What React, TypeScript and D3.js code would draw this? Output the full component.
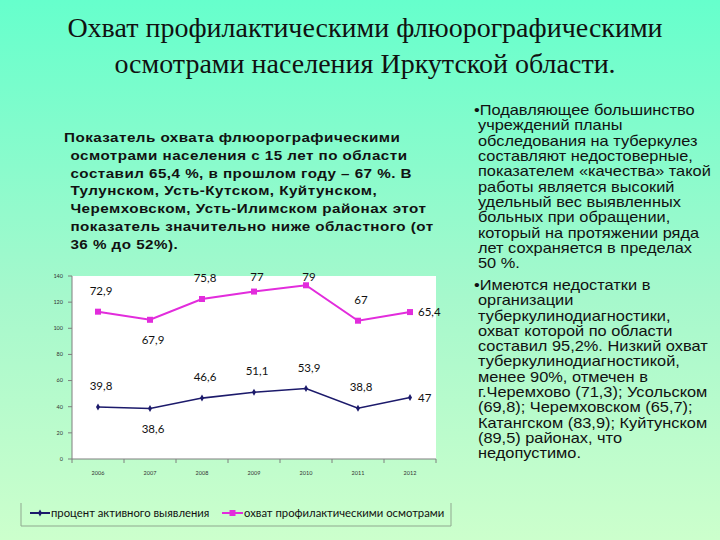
import * as d3 from 'd3';

const years = ['2006', '2007', '2008', '2009', '2010', '2011', '2012'];
const activeDetection = [39.8, 38.6, 46.6, 51.1, 53.9, 38.8, 47];
const screeningCoverage = [72.9, 67.9, 75.8, 77, 79, 67, 65.4];
const labelPlacement = ['above', 'below', 'above', 'above', 'above', 'above', 'right'];
const yTicks = [0, 20, 40, 60, 80, 100, 120, 140];

const seriesNames = ['процент активного выявления', 'охват профилактическими осмотрами'];

const titleLines = [
  'Охват профилактическими флюорографическими',
  'осмотрами населения Иркутской области.',
];

const leftText = [
  'Показатель охвата флюорографическими',
  'осмотрами населения с 15 лет по области',
  'составил 65,4 %, в прошлом году – 67 %. В',
  'Тулунском, Усть-Кутском, Куйтунском,',
  'Черемховском, Усть-Илимском районах этот',
  'показатель значительно ниже областного (от',
  '36 % до 52%).',
];

const rightText1 = [
  '•Подавляющее большинство',
  'учреждений планы',
  'обследования на туберкулез',
  'составляют недостоверные,',
  'показателем «качества» такой',
  'работы является высокий',
  'удельный вес выявленных',
  'больных при обращении,',
  'который на протяжении ряда',
  'лет сохраняется в пределах',
  '50 %.',
];
const rightText2 = [
  '•Имеются недостатки в',
  'организации',
  'туберкулинодиагностики,',
  'охват которой по области',
  'составил 95,2%. Низкий охват',
  'туберкулинодиагностикой,',
  'менее 90%, отмечен  в',
  'г.Черемхово (71,3); Усольском',
  '(69,8); Черемховском (65,7);',
  'Катангском (83,9); Куйтунском',
  '(89,5)  районах, что',
  'недопустимо.',
];

const W = 720;
const H = 540;
const plot = { left: 72, right: 436, top: 276, bottom: 459 };
const BLUE = '#1c1a6b';
const PINK = '#e22cdc';
const sansLabel = 'Lato, "Open Sans", sans-serif';
const arial = '"Liberation Sans", Arial, sans-serif';

const fmt = (v: number) => String(v).replace('.', ',');

export default function App() {
  const rows = years.map((y, i) => ({ year: y, active: activeDetection[i], coverage: screeningCoverage[i] }));
  const stacked = d3.stack<any>().keys(['active', 'coverage'])(rows);

  const x = d3.scaleBand().domain(years).range([plot.left, plot.right]);
  const y = d3.scaleLinear().domain([0, 140]).range([plot.bottom, plot.top]);
  const cx = (yr: string) => (x(yr) as number) + x.bandwidth() / 2;

  const line = d3
    .line<any>()
    .x((d) => cx(d.data.year))
    .y((d) => y(d[1]));

  const colors = [BLUE, PINK];
  const rawValues = [activeDetection, screeningCoverage];

  return (
    <svg width={W} height={H} style={{ position: 'absolute', left: 0, top: 0 }}>
      <defs>
        <linearGradient id="bg" x1="0" y1="0" x2="0" y2="1">
          <stop offset="0%" stopColor="#66ffcc" />
          <stop offset="55%" stopColor="#a6f8cc" />
          <stop offset="100%" stopColor="#ccffcc" />
        </linearGradient>
      </defs>
      <rect x={0} y={0} width={W} height={H} fill="url(#bg)" />

      {/* title */}
      {titleLines.map((t, i) => (
        <text
          key={i}
          x={365}
          y={37 + i * 36}
          textAnchor="middle"
          fontFamily='"Liberation Serif", serif'
          fontSize={28}
          fill="#111"
        >
          {t}
        </text>
      ))}

      {/* left paragraph, slightly stretched like the slide */}
      <g transform="translate(64,0) scale(1.17,1)">
        {leftText.map((t, i) => (
          <text
            key={i}
            x={i === 0 ? 0 : 5.5}
            y={142 + i * 17.8}
            fontFamily={arial}
            fontWeight="bold"
            fontSize={13}
            letterSpacing={0.4}
            fill="#111"
          >
            {t}
          </text>
        ))}
      </g>

      {/* right paragraphs */}
      <g transform="translate(474,0) scale(1.17,1)">
        {rightText1.map((t, i) => (
          <text key={'a' + i} x={i === 0 ? 0 : 3.4} y={115 + i * 15.35} fontFamily={arial} fontSize={14} fill="#111">
            {t}
          </text>
        ))}
        {rightText2.map((t, i) => (
          <text key={'b' + i} x={i === 0 ? 0 : 3.4} y={290 + i * 15.3} fontFamily={arial} fontSize={14} fill="#111">
            {t}
          </text>
        ))}
      </g>

      {/* plot area */}
      <rect
        x={plot.left}
        y={plot.top}
        width={plot.right - plot.left}
        height={plot.bottom - plot.top}
        fill="#ffffff"
      />
      <line x1={plot.left} x2={plot.left} y1={plot.top} y2={plot.bottom} stroke="#7f7f7f" />
      <line x1={plot.left} x2={plot.right} y1={plot.bottom} y2={plot.bottom} stroke="#7f7f7f" />
      {yTicks.map((t) => (
        <g key={t}>
          <line x1={plot.left - 4} x2={plot.left} y1={y(t)} y2={y(t)} stroke="#7f7f7f" />
          <text
            x={plot.left - 9}
            y={y(t)}
            dy="0.35em"
            textAnchor="end"
            fontFamily={sansLabel}
            fontSize={5.5}
            fill="#333"
          >
            {t}
          </text>
        </g>
      ))}
      {[...years.map((yr) => x(yr) as number), plot.right].map((bx, i) => (
        <line key={i} x1={bx} x2={bx} y1={plot.bottom} y2={plot.bottom + 4} stroke="#7f7f7f" />
      ))}
      {years.map((yr) => (
        <text
          key={yr}
          x={cx(yr)}
          y={475}
          textAnchor="middle"
          fontFamily={sansLabel}
          fontSize={5.5}
          fill="#333"
        >
          {yr}
        </text>
      ))}

      {/* series */}
      {stacked.map((s, si) => (
        <g key={s.key}>
          <path d={line(s as any) || ''} fill="none" stroke={colors[si]} strokeWidth={si === 0 ? 1.6 : 2} />
          {s.map((d: any, i: number) =>
            si === 0 ? (
              <path
                key={i}
                transform={`translate(${cx(d.data.year)},${y(d[1])})`}
                d={d3.symbol(d3.symbolDiamond, 14)() || ''}
                fill={BLUE}
              />
            ) : (
              <rect key={i} x={cx(d.data.year) - 3} y={y(d[1]) - 3} width={6} height={6} fill={PINK} />
            )
          )}
          {s.map((d: any, i: number) => {
            const px = cx(d.data.year);
            const py = y(d[1]);
            const pos = labelPlacement[i];
            let lx = px + 3;
            let ly = py;
            let anchor: any = 'middle';
            if (pos === 'above') ly = Math.max(py - 21, plot.top + 1);
            else if (pos === 'below') ly = py + 20;
            else {
              lx = px + 8;
              anchor = 'start';
            }
            return (
              <text
                key={'l' + i}
                x={lx}
                y={ly}
                dy="0.35em"
                textAnchor={anchor}
                fontFamily={sansLabel}
                fontSize={11.5}
                fill="#111"
              >
                {fmt(rawValues[si][i])}
              </text>
            );
          })}
        </g>
      ))}

      {/* legend */}
      <path d="M21,503 V526 H451 V503" fill="none" stroke="#8fa88f" />
      <line x1={30} x2={50} y1={513} y2={513} stroke={BLUE} strokeWidth={2} />
      <path transform="translate(40,513)" d={d3.symbol(d3.symbolDiamond, 14)() || ''} fill={BLUE} />
      <text x={51} y={513} dy="0.35em" fontFamily={sansLabel} fontSize={11.3} fill="#111">
        {seriesNames[0]}
      </text>
      <line x1={222} x2={243} y1={513} y2={513} stroke={PINK} strokeWidth={2} />
      <rect x={229.5} y={510} width={6} height={6} fill={PINK} />
      <text x={244} y={513} dy="0.35em" fontFamily={sansLabel} fontSize={11.3} fill="#111">
        {seriesNames[1]}
      </text>
    </svg>
  );
}
